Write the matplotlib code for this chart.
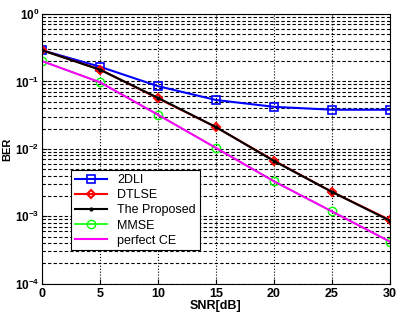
import numpy as np
import matplotlib.pyplot as plt

snr = [0, 5, 10, 15, 20, 25, 30]
ber_2dli = [0.29, 0.165, 0.085, 0.053, 0.042, 0.038, 0.038]
ber_dtlse = [0.29, 0.15, 0.056, 0.021, 0.0067, 0.0023, 0.00088]
ber_proposed = [0.29, 0.149, 0.057, 0.021, 0.0066, 0.0023, 0.00086]
ber_mmse = [0.2, 0.097, 0.032, 0.0103, 0.0033, 0.00118, 0.00042]
ber_perfect = [0.2, 0.097, 0.032, 0.0103, 0.0033, 0.00118, 0.00042]

plt.rcParams['font.family'] = ['Liberation Sans', 'DejaVu Sans']

fig = plt.figure(figsize=(3.97, 3.18), dpi=100)
ax = fig.add_axes([0.106, 0.108, 0.876, 0.848])

ax.semilogy(snr, ber_2dli, color='#0000ff', marker='s', markersize=6,
            markerfacecolor='none', markeredgewidth=1.2, lw=1.5, label='2DLI')
ax.semilogy(snr, ber_dtlse, color='#ff0000', marker='D', markersize=4,
            markerfacecolor='none', markeredgewidth=1.5, lw=1.5, label='DTLSE')
ax.semilogy(snr, ber_proposed, color='black', marker='.', markersize=4,
            lw=1.5, label='The Proposed')
ax.semilogy(snr, ber_mmse, color='#00ff00', marker='o', markersize=6,
            markerfacecolor='none', markeredgewidth=1.0, lw=1.2, label='MMSE')
ax.semilogy(snr, ber_perfect, color='#ff00ff', lw=1.5, label='perfect CE')

ax.set_xlim(0, 30)
ax.set_ylim(1e-4, 1)
ax.set_xticks([0, 5, 10, 15, 20, 25, 30])
ax.set_yticks([1e-4, 1e-3, 1e-2, 1e-1, 1])

ax.grid(True, which='major', axis='x', color='black', linestyle=':', lw=0.8)
ax.grid(True, which='both', axis='y', color='black', linestyle='--', lw=0.8,
        dashes=(3, 2))
ax.tick_params(which='both', direction='in', labelsize=9, pad=3)
ax.tick_params(axis='y', labelsize=8.5, pad=2)
for lab in ax.get_xticklabels() + ax.get_yticklabels():
    lab.set_fontweight('bold')

ax.set_xlabel('SNR[dB]', fontsize=9, fontweight='bold', labelpad=0)
ax.set_ylabel('BER', fontsize=8, fontweight='bold', va='center')
ax.yaxis.set_label_coords(-0.1, 0.5)

leg = ax.legend(loc='lower left', bbox_to_anchor=(0.065, 0.1), fontsize=9,
                fancybox=False, framealpha=1, edgecolor='black',
                borderpad=0.3, labelspacing=0.25, handlelength=2.6)
leg.get_frame().set_linewidth(0.8)

fig.savefig('out.png', dpi=100)
